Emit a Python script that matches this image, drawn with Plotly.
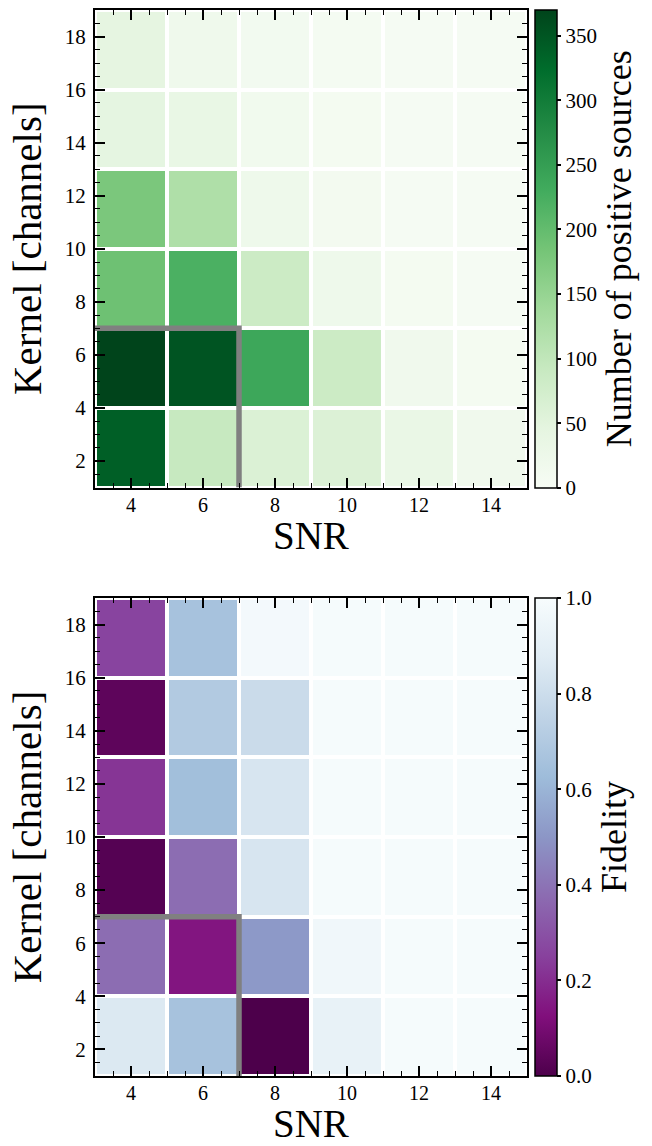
import plotly.graph_objects as go

# ---- data ----
snr_edges = [3, 5, 7, 9, 11, 13, 15]
kernel_edges = [1, 4, 7, 10, 13, 16, 19]

# rows: kernel bins (bottom -> top), columns: SNR bins (left -> right)
n_positive = [
    [340, 92, 62, 60, 33, 18],
    [370, 352, 237, 85, 18, 8],
    [190, 222, 85, 22, 8, 5],
    [178, 122, 22, 10, 5, 4],
    [45, 35, 15, 8, 5, 4],
    [44, 20, 12, 7, 5, 4],
]

fidelity = [
    [0.86, 0.66, 0.00, 0.92, 0.99, 0.99],
    [0.38, 0.14, 0.51, 0.96, 0.99, 0.99],
    [0.02, 0.38, 0.84, 0.99, 0.99, 0.99],
    [0.22, 0.64, 0.84, 0.99, 0.99, 0.99],
    [0.04, 0.70, 0.79, 0.99, 0.99, 0.99],
    [0.26, 0.66, 0.98, 0.99, 0.99, 0.99],
]

boundary_x = [3, 7, 7]
boundary_y = [7, 7, 1]

count_ticks = [0, 50, 100, 150, 200, 250, 300, 350]
fid_ticks = [0.0, 0.2, 0.4, 0.6, 0.8, 1.0]
snr_ticks = [4, 6, 8, 10, 12, 14]
kernel_ticks = [2, 4, 6, 8, 10, 12, 14, 16, 18]

greens = ["#f7fcf5", "#e5f5e0", "#c7e9c0", "#a1d99b", "#74c476",
          "#41ab5d", "#238b45", "#006d2c", "#00441b"]
bupu = ["#f7fcfd", "#e0ecf4", "#bfd3e6", "#9ebcda", "#8c96c6",
        "#8c6bb1", "#88419d", "#810f7c", "#4d004b"]


def scale(cols):
    n = len(cols) - 1
    return [[i / n, c] for i, c in enumerate(cols)]


FONT = "Liberation Serif, DejaVu Serif, serif"
W, H = 652, 1146

x_dom = [95 / W, 527 / W]
top_dom = [1 - 487.5 / H, 1 - 10 / H]
bot_dom = [1 - 1076 / H, 1 - 598 / H]

fig = go.Figure()

fig.add_trace(go.Heatmap(
    x=snr_edges, y=kernel_edges, z=n_positive,
    colorscale=scale(greens), zmin=0, zmax=max(max(r) for r in n_positive),
    xgap=4, ygap=4, xaxis="x", yaxis="y", hoverinfo="skip",
    colorbar=dict(
        x=535 / W, xanchor="left", xpad=0, ypad=0,
        y=sum(top_dom) / 2, yanchor="middle",
        len=477.5, lenmode="pixels", thickness=22, thicknessmode="pixels",
        outlinewidth=1.5, outlinecolor="black",
        tickvals=count_ticks, ticks="outside", ticklen=4, tickwidth=1.5,
        tickcolor="black", tickfont=dict(family=FONT, size=21, color="black"),
        title=dict(text="Number of positive sources", side="right",
                   font=dict(family=FONT, size=36, color="black")),
    ),
))

fig.add_trace(go.Heatmap(
    x=snr_edges, y=kernel_edges, z=fidelity,
    colorscale=scale(bupu[::-1]), zmin=0, zmax=1,
    xgap=4, ygap=4, xaxis="x2", yaxis="y2", hoverinfo="skip",
    colorbar=dict(
        x=535 / W, xanchor="left", xpad=0, ypad=0,
        y=sum(bot_dom) / 2, yanchor="middle",
        len=478, lenmode="pixels", thickness=22, thicknessmode="pixels",
        outlinewidth=1.5, outlinecolor="black",
        tickvals=fid_ticks, tickformat=".1f", ticks="outside", ticklen=4,
        tickwidth=1.5, tickcolor="black",
        tickfont=dict(family=FONT, size=21, color="black"),
        title=dict(text="Fidelity", side="right",
                   font=dict(family=FONT, size=36, color="black")),
    ),
))

for xa, ya in [("x", "y"), ("x2", "y2")]:
    fig.add_trace(go.Scatter(
        x=boundary_x, y=boundary_y, mode="lines", xaxis=xa, yaxis=ya,
        line=dict(color="#808080", width=5.5), hoverinfo="skip",
        showlegend=False,
    ))

axis_common = dict(
    showline=True, linecolor="black", linewidth=2, mirror="allticks",
    ticks="inside", ticklen=10, tickwidth=2, tickcolor="black",
    showgrid=False, zeroline=False,
    minor=dict(ticks="inside", ticklen=5, tickwidth=1, tickcolor="black",
               dtick=0.5, showgrid=False),
)
xtick_font = dict(family=FONT, size=20, color="black")
ytick_font = dict(family=FONT, size=21, color="black")
ytitle_font = dict(family=FONT, size=41, color="black")

fig.update_layout(
    width=W, height=H, margin=dict(l=0, r=0, t=0, b=0),
    paper_bgcolor="white", plot_bgcolor="white", showlegend=False,
    xaxis=dict(domain=x_dom, anchor="y", range=[3, 15], tickvals=snr_ticks,
               tickfont=xtick_font, ticklabelstandoff=-2, **axis_common),
    yaxis=dict(domain=top_dom, anchor="x", range=[1, 19], tickvals=kernel_ticks,
               tickfont=ytick_font, ticklabelstandoff=3,
               title=dict(text="Kernel [channels]", standoff=10, font=ytitle_font),
               **axis_common),
    xaxis2=dict(domain=x_dom, anchor="y2", range=[3, 15], tickvals=snr_ticks,
                tickfont=xtick_font, ticklabelstandoff=-2, **axis_common),
    yaxis2=dict(domain=bot_dom, anchor="x2", range=[1, 19], tickvals=kernel_ticks,
                tickfont=ytick_font, ticklabelstandoff=3,
                title=dict(text="Kernel [channels]", standoff=10, font=ytitle_font),
                **axis_common),
)

# x-axis titles as annotations; text box bottom sits 70 px below each plot
for dom in (top_dom, bot_dom):
    fig.add_annotation(
        text="SNR", xref="paper", yref="paper",
        x=sum(x_dom) / 2, y=dom[0], xanchor="center", yanchor="bottom",
        yshift=-70, showarrow=False, borderpad=0,
        font=dict(family=FONT, size=39, color="black"),
    )

fig.write_html("out.html")
